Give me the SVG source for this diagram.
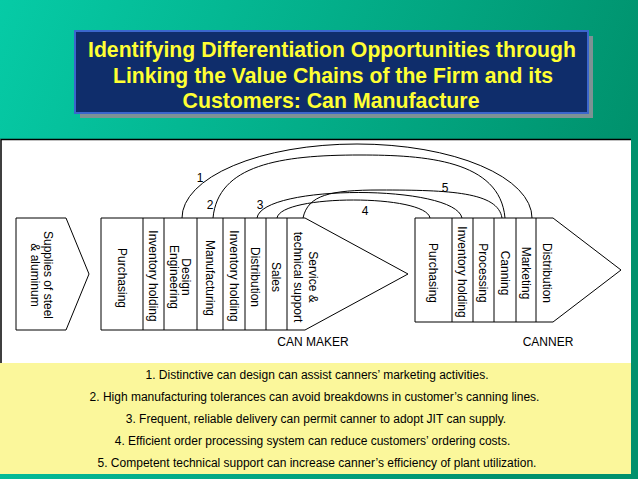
<svg xmlns="http://www.w3.org/2000/svg" width="638" height="479" viewBox="0 0 638 479">
<defs>
<linearGradient id="bg" x1="0" y1="0" x2="1" y2="0.3">
<stop offset="0" stop-color="#06cba6"/>
<stop offset="1" stop-color="#00916c"/>
</linearGradient>
<style>
.t{font-family:"Liberation Sans",Arial,sans-serif;font-size:12px;fill:#000;text-anchor:middle}
.ttl{font-family:"Liberation Sans",Arial,sans-serif;font-size:21.5px;font-weight:bold;fill:#ffff33;text-anchor:middle}
.box{fill:#fff;stroke:#000;stroke-width:1}
.arc{fill:none;stroke:#000;stroke-width:1}
.n{font-family:"Liberation Sans",Arial,sans-serif;font-size:12px;fill:#000;text-anchor:middle}
.note{font-family:"Liberation Sans",Arial,sans-serif;font-size:12px;fill:#000;text-anchor:middle}
</style>
</defs>
<rect x="0" y="0" width="638" height="479" fill="url(#bg)"/>
<g id="title">
<rect x="80" y="36" width="513" height="82" fill="#7d9294"/>
<rect x="75" y="31" width="513" height="82" fill="#0f2d6b" stroke="#3b66cc" stroke-width="2"/>
<text class="ttl" x="332" y="57" textLength="488" lengthAdjust="spacingAndGlyphs">Identifying Differentiation Opportunities through</text>
<text class="ttl" x="333" y="83" textLength="440" lengthAdjust="spacingAndGlyphs">Linking the Value Chains of the Firm and its</text>
<text class="ttl" x="331" y="108" textLength="297" lengthAdjust="spacingAndGlyphs">Customers: Can Manufacture</text>
</g>
<g id="panel">
<rect x="0" y="139" width="631" height="224" fill="#fff"/>
<path d="M1,363 V139.5 H631" fill="none" stroke="#000" stroke-width="1.5"/>
</g>
<g id="supplies">
<path class="box" d="M16,218 H66 L89,274 L66,330 H16 Z"/>
<text class="t" transform="translate(41.5,275) rotate(90)"><tspan x="0" y="-6.5" dy="0.35em">Supplies of steel</tspan><tspan x="0" y="6.5" dy="0.35em">&amp; aluminum</tspan></text>
</g>
<g id="canmaker">
<path class="box" d="M101,218 H305 L408,274 L305,330 H101 Z"/>
<path class="arc" d="M143,218V330M164,218V330M197,218V330M223,218V330M245,218V330M266,218V330M287,218V330"/>
<text class="t" transform="translate(122,278) rotate(90)" dy="0.35em">Purchasing</text>
<text class="t" transform="translate(153.5,276) rotate(90)" dy="0.35em">Inventory holding</text>
<text class="t" transform="translate(180.5,277) rotate(90)"><tspan x="0" y="-6" dy="0.35em">Design</tspan><tspan x="0" y="6" dy="0.35em">Engineering</tspan></text>
<text class="t" transform="translate(210,278) rotate(90)" dy="0.35em">Manufacturing</text>
<text class="t" transform="translate(234,276) rotate(90)" dy="0.35em">Inventory holding</text>
<text class="t" transform="translate(255.5,277) rotate(90)" dy="0.35em">Distribution</text>
<text class="t" transform="translate(276.5,277) rotate(90)" dy="0.35em">Sales</text>
<text class="t" transform="translate(305.5,277) rotate(90)"><tspan x="0" y="-7.5" dy="0.35em">Service &amp;</tspan><tspan x="0" y="7.5" dy="0.35em">technical support</tspan></text>
<text class="t" x="313" y="346">CAN MAKER</text>
</g>
<g id="canner">
<path class="box" d="M415,218 H553 L621,270 L553,322 H415 Z"/>
<path class="arc" d="M452,218V322M473,218V322M494,218V322M516,218V322M536,218V322"/>
<text class="t" transform="translate(433.5,273) rotate(90)" dy="0.35em">Purchasing</text>
<text class="t" transform="translate(462.5,272) rotate(90)" dy="0.35em">Inventory holding</text>
<text class="t" transform="translate(483.5,273) rotate(90)" dy="0.35em">Processing</text>
<text class="t" transform="translate(505,273) rotate(90)" dy="0.35em">Canning</text>
<text class="t" transform="translate(526,273) rotate(90)" dy="0.35em">Marketing</text>
<text class="t" transform="translate(547,273) rotate(90)" dy="0.35em">Distribution</text>
<text class="t" x="548" y="346">CANNER</text>
</g>
<g id="connectors">
<path class="arc" d="M182,218 A175,74 0 0 1 532,218"/>
<path class="arc" d="M213,218 C218,165 280,155 360,155 C425,155 500,160 505,218"/>
<path class="arc" d="M257,218 C262,184 455,184 462,218"/>
<path class="arc" d="M277,218 C281,194 426,194 430,218"/>
<path class="arc" d="M303,218 C308,195 330,190 380,190 C450,190 498,192 502,218"/>
<text class="n" x="200" y="182">1</text>
<text class="n" x="210" y="209">2</text>
<text class="n" x="260" y="209">3</text>
<text class="n" x="365" y="215">4</text>
<text class="n" x="445" y="192">5</text>
</g>
<g id="notes">
<rect x="0" y="363" width="631" height="111" fill="#fbf79b"/>
<text class="note" x="317" y="379">1. Distinctive can design can assist canners’ marketing activities.</text>
<text class="note" x="314.5" y="401">2. High manufacturing tolerances can avoid breakdowns in customer’s canning lines.</text>
<text class="note" x="316" y="423">3. Frequent, reliable delivery can permit canner to adopt JIT can supply.</text>
<text class="note" x="312.5" y="445">4. Efficient order processing system can reduce customers’ ordering costs.</text>
<text class="note" x="317" y="467">5. Competent technical support can increase canner’s efficiency of plant utilization.</text>
</g>
</svg>
